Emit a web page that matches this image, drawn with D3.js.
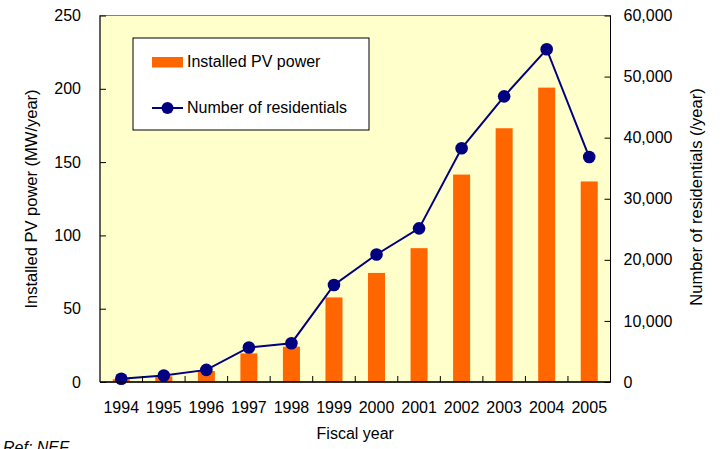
<!DOCTYPE html>
<meta charset="utf-8">
<style>

body {
  margin: 0;
  background: #fff;
}

svg {
  font-family: "Liberation Sans", Arial, sans-serif;
  display: block;
}

.axis path {
  display: none;
}

.axis text {
  font-size: 16px;
  fill: #000;
}

</style>
<svg width="726" height="449"></svg>

<script src="https://d3js.org/d3.v7.min.js"></script>
<script>

  // Fiscal years, installed PV power (MW/year) and number of residentials (/year)
  var years = ["1994", "1995", "1996", "1997", "1998", "1999", "2000", "2001", "2002", "2003", "2004", "2005"],
      power = [1.9, 3.9, 7.5, 19.5, 24.1, 57.7, 74.4, 91.3, 141.5, 173.1, 200.8, 136.8],
      houses = [539, 1065, 1986, 5654, 6352, 15879, 20877, 25151, 38268, 46760, 54475, 36826];

  var powerTicks = [0, 50, 100, 150, 200, 250],
      houseTicks = [0, 10000, 20000, 30000, 40000, 50000, 60000];

  var svg = d3.select("svg"),
      margin = {top: 15.5, right: 115.5, bottom: 67, left: 100},
      width = +svg.attr("width") - margin.left - margin.right,
      height = +svg.attr("height") - margin.top - margin.bottom,
      g = svg.append("g").attr("transform", "translate(" + margin.left + "," + margin.top + ")");

  var x = d3.scaleBand()
      .domain(years)
      .range([0, width]);

  var y = d3.scaleLinear()
      .domain([0, 250])
      .range([height, 0]);

  var y2 = d3.scaleLinear()
      .domain([0, 60000])
      .range([height, 0]);

  // plot area
  g.append("rect")
      .attr("width", width)
      .attr("height", height)
      .attr("fill", "#ffffcc")
      .attr("stroke", "#808080");

  var barW = x.bandwidth() * 0.4;

  g.selectAll(".bar")
    .data(power)
    .enter().append("rect")
      .attr("class", "bar")
      .attr("x", function(d, i) { return x(years[i]) + (x.bandwidth() - barW) / 2; })
      .attr("y", function(d) { return y(d); })
      .attr("width", barW)
      .attr("height", function(d) { return height - y(d); })
      .attr("fill", "#ff6600");

  var line = d3.line()
      .x(function(d, i) { return x(years[i]) + x.bandwidth() / 2; })
      .y(function(d) { return y2(d); });

  g.append("path")
      .datum(houses)
      .attr("d", line)
      .attr("fill", "none")
      .attr("stroke", "#000080")
      .attr("stroke-width", 2);

  g.selectAll(".dot")
    .data(houses)
    .enter().append("circle")
      .attr("class", "dot")
      .attr("cx", function(d, i) { return x(years[i]) + x.bandwidth() / 2; })
      .attr("cy", function(d) { return y2(d); })
      .attr("r", 6.3)
      .attr("fill", "#000080");

  // axes
  g.append("g")
      .attr("class", "axis")
      .call(d3.axisLeft(y).tickValues(powerTicks).tickSize(-6).tickPadding(19))
    .selectAll("line")
      .attr("stroke", "#000");

  g.append("g")
      .attr("class", "axis")
      .attr("transform", "translate(" + width + ",0)")
      .call(d3.axisRight(y2).tickValues(houseTicks).tickSize(-6).tickPadding(13).tickFormat(d3.format(",")))
    .selectAll("line")
      .attr("stroke", "#000");

  g.append("g")
      .attr("class", "axis")
      .attr("transform", "translate(0," + height + ")")
      .call(d3.axisBottom(x).tickSize(0).tickPadding(20));

  // category boundary ticks on the x axis
  g.selectAll(".xtick")
    .data(years.slice(1))
    .enter().append("line")
      .attr("x1", function(d) { return x(d); })
      .attr("x2", function(d) { return x(d); })
      .attr("y1", height)
      .attr("y2", height - 6)
      .attr("stroke", "#000");

  g.append("line")
      .attr("x1", 0).attr("x2", 0)
      .attr("y1", 0).attr("y2", height)
      .attr("stroke", "#000");

  g.append("line")
      .attr("x1", width).attr("x2", width)
      .attr("y1", 0).attr("y2", height)
      .attr("stroke", "#000");

  g.append("line")
      .attr("x1", 0).attr("x2", width)
      .attr("y1", height).attr("y2", height)
      .attr("stroke", "#000")
      .attr("stroke-width", 1.5);

  // axis titles
  svg.append("text")
      .attr("x", margin.left + width / 2)
      .attr("y", 439)
      .attr("text-anchor", "middle")
      .attr("font-size", 16)
      .text("Fiscal year");

  svg.append("text")
      .attr("transform", "translate(37,199) rotate(-90)")
      .attr("text-anchor", "middle")
      .attr("font-size", 16.5)
      .text("Installed PV power (MW/year)");

  svg.append("text")
      .attr("transform", "translate(702,197) rotate(-90)")
      .attr("text-anchor", "middle")
      .attr("font-size", 16.5)
      .text("Number of residentials (/year)");

  svg.append("text")
      .attr("x", 3)
      .attr("y", 453)
      .attr("font-size", 16)
      .attr("font-style", "italic")
      .text("Ref: NEF");

  // legend
  var legend = svg.append("g").attr("transform", "translate(133,38)");

  legend.append("rect")
      .attr("width", 236)
      .attr("height", 92)
      .attr("fill", "#fff")
      .attr("stroke", "#000");

  legend.append("rect")
      .attr("x", 19)
      .attr("y", 19)
      .attr("width", 31)
      .attr("height", 10.5)
      .attr("fill", "#ff6600");

  legend.append("line")
      .attr("x1", 19).attr("x2", 50)
      .attr("y1", 70).attr("y2", 70)
      .attr("stroke", "#000080")
      .attr("stroke-width", 2);

  legend.append("circle")
      .attr("cx", 34.5)
      .attr("cy", 70)
      .attr("r", 6)
      .attr("fill", "#000080");

  legend.append("text")
      .attr("x", 54)
      .attr("y", 29)
      .attr("font-size", 16)
      .text("Installed PV power");

  legend.append("text")
      .attr("x", 54)
      .attr("y", 75)
      .attr("font-size", 16)
      .text("Number of residentials");

</script>
